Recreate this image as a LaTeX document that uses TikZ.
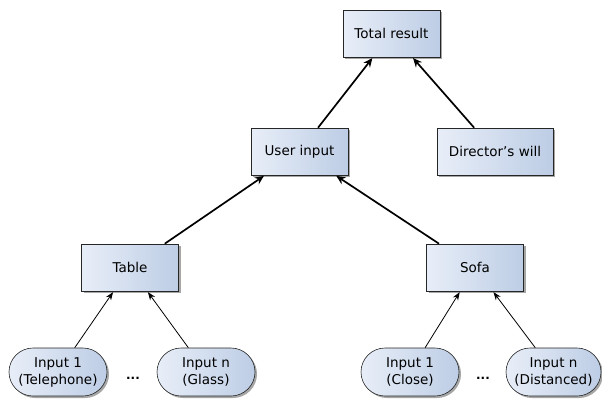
\documentclass[tikz,border=0pt]{standalone}
\usepackage{fontspec}
\setmainfont{DejaVu Sans}
\usetikzlibrary{arrows.meta,shadows,shapes.misc}
\definecolor{boxL}{HTML}{E8EEF8}
\definecolor{boxR}{HTML}{BDCDE5}
\tikzset{
  base/.style={draw=black!85, line width=0.6pt, left color=boxL, right color=boxR,
    drop shadow={shadow xshift=2pt, shadow yshift=-2pt, opacity=0.35, fill=black},
    font=\fontsize{13.5}{17}\selectfont, align=center, inner sep=0pt},
  box/.style={base, rectangle, minimum width=97pt, minimum height=47pt},
  inp/.style={base, rounded rectangle, minimum width=98pt, minimum height=48pt},
  thick arrow/.style={line width=1.7pt, -{Stealth[length=9pt,width=8pt]}, shorten >=1pt},
  thin arrow/.style={line width=0.8pt, -{Stealth[length=8pt,width=6pt]}, shorten >=1pt},
  dots/.style={font=\bfseries\fontsize{12}{12}\selectfont, inner sep=0pt}
}
\begin{document}
\begin{tikzpicture}[x=1pt,y=-1pt]
\useasboundingbox (0,0) rectangle (602,402);
\node[box] (total) at (391.5,33.5) {Total result};
\node[box] (user) at (299.5,151.5) {User input};
\node[box, minimum width=116pt] (dir) at (495,151.5) {Director's will};
\node[box] (table) at (130,267.5) {Table};
\node[box] (sofa) at (475,267.5) {Sofa};
\node[inp] (i1) at (58,372) {Input 1\\(Telephone)};
\node[inp] (in) at (206,372) {Input n\\(Glass)};
\node[inp] (j1) at (410,372) {Input 1\\(Close)};
\node[inp, minimum width=95pt] (jn) at (553.5,372) {Input n\\(Distanced)};
\node[dots] (d1) at (133,378) {...};
\node[dots] (d2) at (483,378) {...};
\draw[thick arrow] (user) -- (total);
\draw[thick arrow] (dir) -- (total);
\draw[thick arrow] (table) -- (user);
\draw[thick arrow] (sofa) -- (user);
\draw[thin arrow] (i1) -- (table);
\draw[thin arrow] (in) -- (table);
\draw[thin arrow] (j1) -- (sofa);
\draw[thin arrow] (jn) -- (sofa);
\end{tikzpicture}
\end{document}
